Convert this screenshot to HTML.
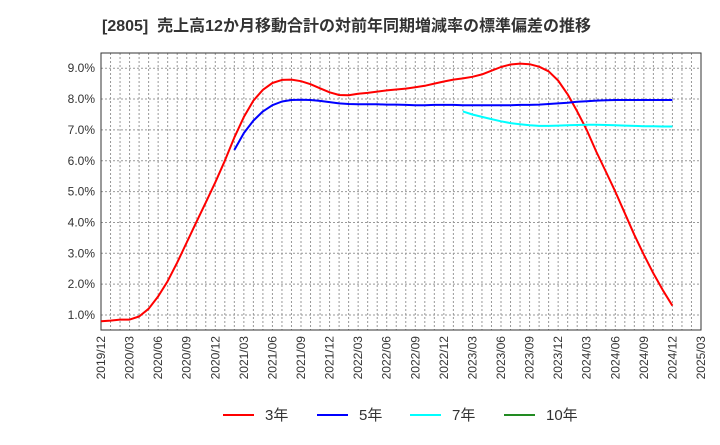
<!DOCTYPE html>
<html><head><meta charset="utf-8"><style>
body{margin:0;background:#fff;width:720px;height:440px;overflow:hidden;font-family:"Liberation Sans","Noto Sans CJK JP",sans-serif}
</style></head><body>
<svg id="c" width="720" height="440">
<text x="102" y="31" font-size="16" font-weight="bold" fill="#333" font-family="Liberation Sans,Noto Sans CJK JP,sans-serif" xml:space="preserve">[2805]  売上高12か月移動合計の対前年同期増減率の標準偏差の推移</text>
<g id="grid"></g><g id="axes"></g><g id="series"></g><g id="legend"></g>
</svg>
<script>
const xTicks=["2019/12","2020/03","2020/06","2020/09","2020/12","2021/03","2021/06","2021/09","2021/12","2022/03","2022/06","2022/09","2022/12","2023/03","2023/06","2023/09","2023/12","2024/03","2024/06","2024/09","2024/12","2025/03"];
const yTicks=[1,2,3,4,5,6,7,8,9];
const s3Start=0;
const s3=[0.8,0.82,0.85,0.85,0.95,1.2,1.6,2.1,2.7,3.35,4.0,4.65,5.3,6.0,6.75,7.42,7.95,8.3,8.52,8.62,8.63,8.58,8.48,8.35,8.22,8.13,8.12,8.17,8.2,8.24,8.28,8.31,8.34,8.38,8.43,8.5,8.57,8.63,8.67,8.72,8.8,8.92,9.04,9.12,9.15,9.13,9.05,8.9,8.6,8.15,7.6,7.0,6.3,5.65,5.0,4.3,3.6,2.95,2.35,1.8,1.3];
const s5Start=14;
const s5=[6.35,6.9,7.3,7.6,7.8,7.92,7.97,7.98,7.97,7.94,7.9,7.86,7.84,7.83,7.83,7.83,7.82,7.82,7.81,7.8,7.8,7.81,7.81,7.81,7.8,7.8,7.8,7.8,7.8,7.8,7.81,7.81,7.82,7.84,7.86,7.88,7.91,7.93,7.95,7.96,7.97,7.97,7.97,7.97,7.97,7.97,7.97];
const s7Start=38;
const s7=[7.6,7.5,7.42,7.35,7.28,7.22,7.18,7.15,7.13,7.13,7.14,7.15,7.16,7.17,7.17,7.16,7.15,7.14,7.13,7.12,7.12,7.11,7.11];
const L=101,R=701,T=53,B=330;
const xm=m=>L+m*(R-L)/63;
const yv=v=>315-(v-1)*30.85;
const NS="http://www.w3.org/2000/svg";
function mk(p,t,a){const e=document.createElementNS(NS,t);for(const k in a)e.setAttribute(k,a[k]);p.appendChild(e);return e;}
const grid=document.getElementById('grid'),axes=document.getElementById('axes'),ser=document.getElementById('series'),leg=document.getElementById('legend');
for(let m=1;m<63;m++){const g=mk(grid,'line',{x1:xm(m),x2:xm(m),y1:T,y2:B,stroke:'#999','stroke-dasharray':'2,2','stroke-width':1});

}
yTicks.forEach(v=>{const g=mk(grid,'line',{x1:L,x2:R,y1:yv(v),y2:yv(v),stroke:'#999','stroke-dasharray':'2,2','stroke-width':1});


const t=mk(axes,'text',{x:L-6,y:yv(v)+4,'text-anchor':'end','font-size':12,fill:'#333'});t.textContent=v.toFixed(1)+'%';

});
const fr=mk(axes,'rect',{x:L,y:T,width:R-L,height:B-T,fill:'none',stroke:'#333','stroke-width':1});


xTicks.forEach((s,i)=>{const x=xm(i*3);const t=mk(axes,'text',{x:0,y:0,'text-anchor':'end','font-size':12,fill:'#333',transform:`translate(${x+4},${B+6}) rotate(-90)`});t.textContent=s;

});
function line(data,start,color,name){const pts=data.map((v,i)=>xm(start+i).toFixed(1)+','+yv(v).toFixed(1)).join(' ');
const p=mk(ser,'polyline',{points:pts,fill:'none',stroke:color,'stroke-width':2,'stroke-linejoin':'round'});

}
line(s3,s3Start,'#f00','series-3yr');
line(s5,s5Start,'#00f','series-5yr');
line(s7,s7Start,'#0ff','series-7yr');
[['3年','#f00',223],['5年','#00f',317],['7年','#0ff',410],['10年','#228b22',504]].forEach(([n,c,x])=>{
const g=mk(leg,'g',{});


mk(g,'line',{x1:x,x2:x+31,y1:415,y2:415,stroke:c,'stroke-width':2});
const t=mk(g,'text',{x:x+42,y:420,'font-size':15,fill:'#333'});t.textContent=n;});
</script>
</body></html>
